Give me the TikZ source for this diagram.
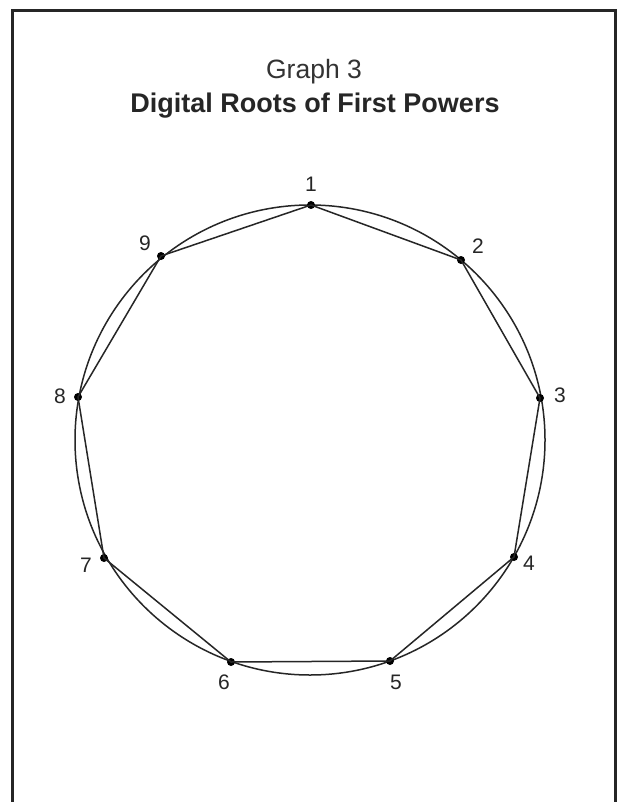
\documentclass[tikz,border=0pt]{standalone}
\usepackage{fontspec}
\setmainfont{Liberation Sans}
\begin{document}
\begin{tikzpicture}[x=1pt,y=-1pt,
  vertex/.style={circle,fill=black,inner sep=0pt,minimum size=8pt},
  numlabel/.style={inner sep=0pt,font=\fontsize{21}{25}\selectfont,text=black!85},
  edge/.style={line width=1.5pt,black!85},
  frame/.style={line width=3pt,black!85}]
\useasboundingbox (0,0) rectangle (620,802);
\fill[white] (0,0) rectangle (620,802);
% frame
\draw[frame] (12,802) -- (12,11) -- (615,11) -- (615,802);
% titles
\node[anchor=base,inner sep=0pt,font=\fontsize{26.5}{30}\selectfont,text=black!80] (t1) at (314,79) {Graph 3};
\node[anchor=base,inner sep=0pt,font=\bfseries\fontsize{27}{32}\selectfont,text=black!85] (t2) at (315,113) {Digital Roots of First Powers};
% circle
\coordinate (c) at (310,440);
\draw[edge] (c) circle[radius=235pt];
% vertices
\node[vertex] (v1) at (311,205) {};
\node[vertex] (v2) at (461,260) {};
\node[vertex] (v3) at (540,398) {};
\node[vertex] (v4) at (514,557) {};
\node[vertex] (v5) at (390,661) {};
\node[vertex] (v6) at (231,662) {};
\node[vertex] (v7) at (104,558) {};
\node[vertex] (v8) at (78,397) {};
\node[vertex] (v9) at (161,256) {};
% polygon
\draw[edge] (v1.center) -- (v2.center) -- (v3.center) -- (v4.center) -- (v5.center)
  -- (v6.center) -- (v7.center) -- (v8.center) -- (v9.center) -- (v1.center);
% labels
\node[numlabel] (l1) at (311,184) {1};
\node[numlabel] (l2) at (478,246) {2};
\node[numlabel] (l3) at (560,395) {3};
\node[numlabel] (l4) at (529,563) {4};
\node[numlabel] (l5) at (396,682) {5};
\node[numlabel] (l6) at (224,682) {6};
\node[numlabel] (l7) at (86,565) {7};
\node[numlabel] (l8) at (60,396) {8};
\node[numlabel] (l9) at (145,243) {9};
\end{tikzpicture}
\end{document}
